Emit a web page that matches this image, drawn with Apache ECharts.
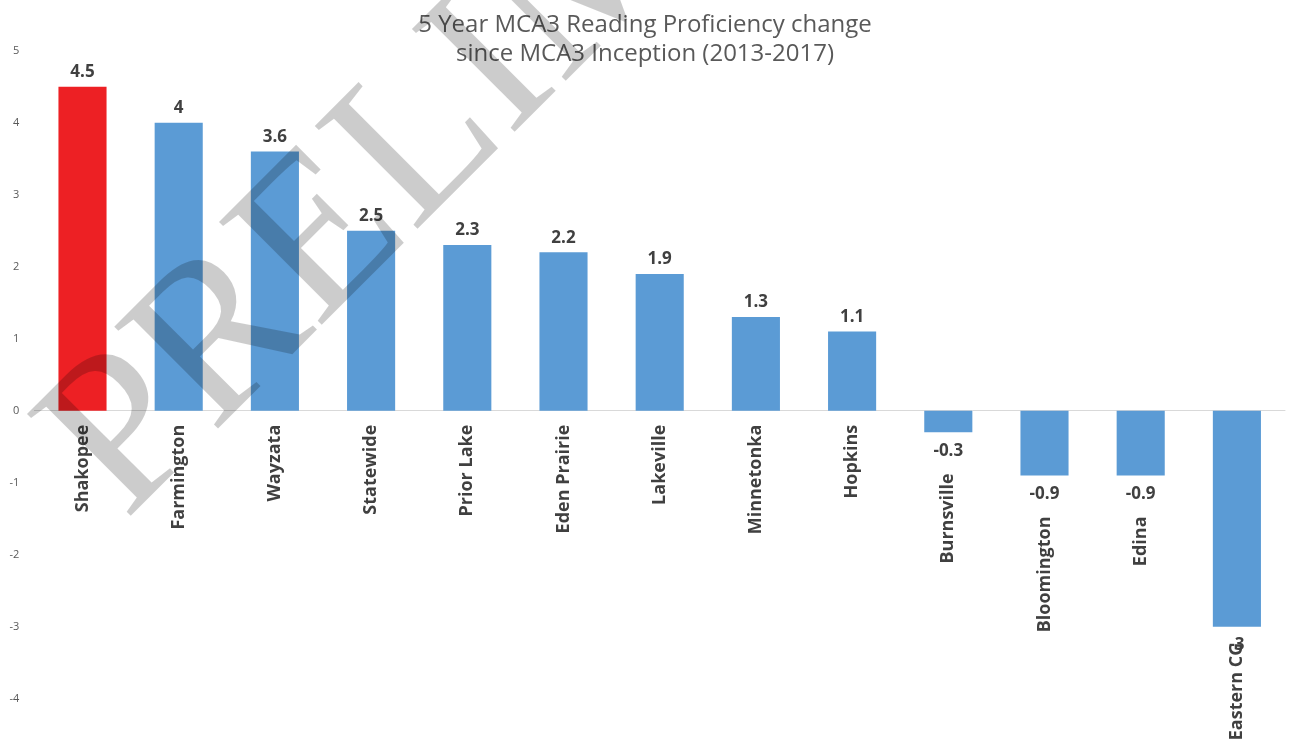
<!DOCTYPE html>
<html>
<head>
<meta charset="utf-8">
<script src="https://cdn.jsdelivr.net/npm/echarts@6/dist/echarts.min.js"></script>
<style>
html,body{margin:0;padding:0;background:#fff;}
#chart{width:1290px;height:742px;}
</style>
</head>
<body>
<div id="chart"></div>
<script>
const titleLines = ['5 Year MCA3 Reading Proficiency change', 'since MCA3 Inception (2013-2017)'];
const categories = ['Shakopee','Farmington','Wayzata','Statewide','Prior Lake','Eden Prairie','Lakeville','Minnetonka','Hopkins','Burnsville','Bloomington','Edina','Eastern CG'];
const values = [4.5, 4, 3.6, 2.5, 2.3, 2.2, 1.9, 1.3, 1.1, -0.3, -0.9, -0.9, -3];
const highlighted = ['Shakopee'];
const yMin = -4, yMax = 5, yStep = 1;
const watermarkText = 'PRELIMINARY';

const BLUE = '#5B9BD5', RED = '#ED2024', TXT = '#404040';

const valueData = values.map((v, i) => ({
  value: v,
  itemStyle: { color: highlighted.includes(categories[i]) ? RED : BLUE },
  label: { position: v >= 0 ? 'top' : 'bottom', distance: v >= 0 ? 6 : 10 }
}));
const nameData = values.map((v, i) => ({
  value: v,
  label: { distance: (v < 0 && v > -2) ? 41 : (v < 0 ? 16 : 14) }
}));

const chart = echarts.init(document.getElementById('chart'));
const ang = 45 * Math.PI / 180;
chart.setOption({
  animation: false,
  title: {
    text: titleLines.join('\n'),
    left: 'center', top: 6,
    textStyle: { fontFamily: 'Open Sans', fontSize: 24, fontWeight: 'normal', color: '#595959', lineHeight: 29 }
  },
  grid: { left: 34.4, right: 5, top: 50.7, bottom: 43.3, containLabel: false },
  xAxis: {
    type: 'category', data: categories,
    axisLine: { onZero: true, lineStyle: { color: '#D9D9D9', width: 1 } },
    axisTick: { show: false }, axisLabel: { show: false }, splitLine: { show: false }
  },
  yAxis: {
    type: 'value', min: yMin, max: yMax, interval: yStep,
    axisLine: { show: false }, axisTick: { show: false }, splitLine: { show: false },
    axisLabel: { margin: 15, color: '#595959', fontFamily: 'Open Sans', fontSize: 11 }
  },
  series: [
    {
      type: 'bar', data: valueData, barWidth: '50%',
      label: { show: true, color: TXT, fontFamily: 'Open Sans', fontWeight: 'bold', fontSize: 17 },
      z: 2
    },
    {
      type: 'bar', data: nameData, barWidth: '50%', barGap: '-100%',
      itemStyle: { color: 'rgba(0,0,0,0)' },
      label: {
        show: true, position: 'bottom', rotate: 90, align: 'right', verticalAlign: 'middle',
        formatter: p => categories[p.dataIndex],
        color: TXT, fontFamily: 'Open Sans', fontWeight: 'bold', fontSize: 18
      },
      z: 3
    }
  ],
  graphic: [{
    type: 'text', z: 100, silent: true,
    x: 84, y: 480, rotation: ang,
    style: {
      text: watermarkText, fill: 'rgba(0,0,0,0.2)',
      font: '222px "Liberation Serif"', textAlign: 'left', textVerticalAlign: 'middle'
    }
  }]
});
</script>
</body>
</html>
